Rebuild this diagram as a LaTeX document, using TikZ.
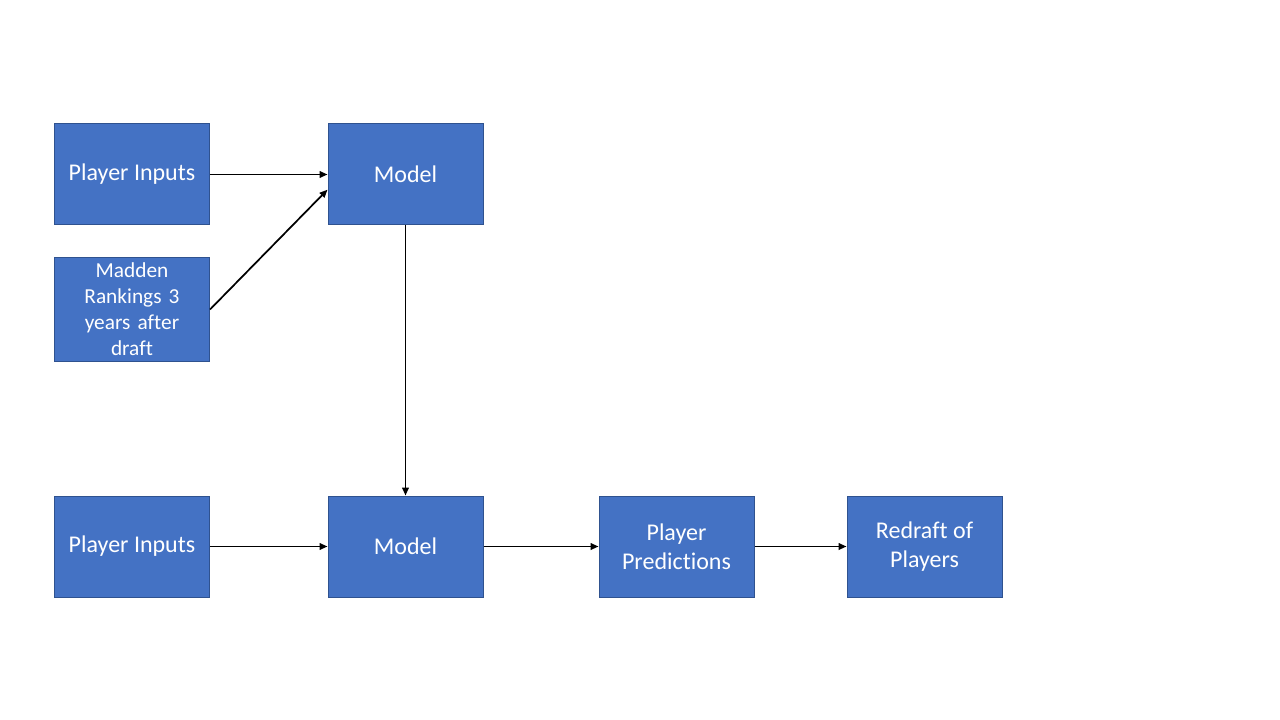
\documentclass[tikz,border=0pt]{standalone}
\usepackage{fontspec}
\setmainfont[Ligatures=NoCommon]{Carlito}
\usetikzlibrary{arrows.meta, positioning}
\definecolor{pblue}{HTML}{4472C4}
\definecolor{pedge}{HTML}{2F528F}
\tikzset{
  every picture/.style={line width=1pt},
  box/.style={draw=pedge, fill=pblue, line width=0.75pt, text=white, align=center,
    minimum width=116.25pt, minimum height=75.75pt, inner sep=4pt, font=\fontsize{18}{21.6}\selectfont},
  smallbox/.style={box, text width=100pt, font=\fontsize{16}{19.5}\selectfont},
  arrow/.style={-{Triangle[length=6pt, width=5pt]}, draw=black, line width=1.3pt},
}
\begin{document}
\begin{tikzpicture}[x=0.75pt, y=-0.75pt]
  \useasboundingbox (0,0) rectangle (1280,720);
  % training
  \node[box] (pin1) at (132,174.5) {Player Inputs};
  \node[box] (mtop) at (405.5,174.5) {Model};
  \node[smallbox] (madden) at (132,309.5) {Madden\\Rankings 3\\years after\\draft};
  \draw[arrow] (pin1) -- (mtop);
  \draw[arrow] (madden.east) -- (mtop.191);
  % prediction
  \node[box] (pin2) at (132,546.5) {Player Inputs};
  \node[box] (mbot) at (405.5,546.5) {Model};
  \node[box] (pred) at (676.5,546.5) {Player\\Predictions};
  \node[box] (redraft) at (924.5,546.5) {Redraft of\\Players};
  \draw[arrow] (mtop) -- (mbot);
  \draw[arrow] (pin2) -- (mbot);
  \draw[arrow] (mbot) -- (pred);
  \draw[arrow] (pred) -- (redraft);
\end{tikzpicture}
\end{document}
